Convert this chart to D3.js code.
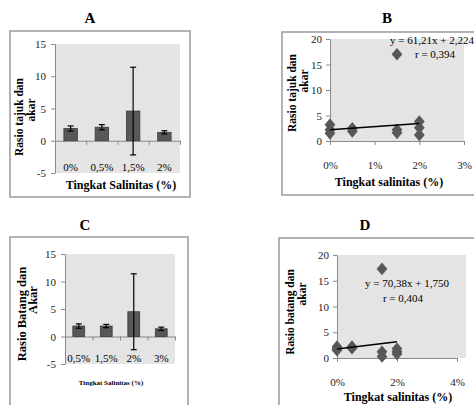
<!DOCTYPE html>
<html>
<head>
<meta charset="utf-8">
<script src="https://cdn.jsdelivr.net/npm/d3@7"></script>
<style>
  body { margin: 0; background: #fff; }
  svg text { font-family: "Liberation Serif", "Times New Roman", serif; }
  .axis path, .axis line { stroke: #8a8a8a; }
  .axis text { fill: #222; font-size: 11px; }
</style>
</head>
<body>
<svg id="chart"></svg>
<script>
// panel A - bars with error bars
const catsA = ["0%", "0,5%", "1,5%", "2%"];
const meansA = [1.9, 2.1, 4.6, 1.3];
const errA = [0.4, 0.4, 6.8, 0.25];

// panel C - bars with error bars
const catsC = ["0,5%", "1,5%", "2%", "3%"];
const meansC = [1.9, 1.9, 4.5, 1.4];
const errC = [0.4, 0.3, 6.9, 0.3];

const barTicks = [-5, 0, 5, 10, 15];

// panel B - scatter (salinity as fraction)
const salB = [0, 0, 0, 0.005, 0.005, 0.015, 0.015, 0.015, 0.02, 0.02, 0.02];
const ratioB = [3.2, 2.2, 1.5, 2.5, 1.9, 17.0, 2.2, 1.6, 3.8, 2.6, 1.2];
const fitB = [61.21, 2.224];
const xTicksB = [0, 0.01, 0.02, 0.03];

// panel D - scatter
const salD = [0, 0, 0, 0.005, 0.005, 0.015, 0.015, 0.015, 0.02, 0.02, 0.02];
const ratioD = [2.2, 1.8, 1.5, 2.2, 1.9, 17.3, 1.2, 0.3, 1.8, 1.2, 0.8];
const fitD = [70.38, 1.750];
const xTicksD = [0, 0.02, 0.04];

const scatterTicks = [0, 5, 10, 15, 20];

const svgWidth = 474, svgHeight = 405;
const plotBg = "#e4e4e4";
const markColor = "#585858";

const chart = d3.select("#chart")
    .attr("width", svgWidth)
    .attr("height", svgHeight);

function frame(box, title) {
    chart.append("rect")
        .attr("x", box.x).attr("y", box.y)
        .attr("width", box.w).attr("height", box.h)
        .attr("fill", "none")
        .attr("stroke", "#9a9a9a")
        .attr("stroke-width", 1.5);
    chart.append("text")
        .attr("x", title.x).attr("y", title.y)
        .attr("text-anchor", "middle")
        .attr("dominant-baseline", "central")
        .style("font-size", "15px")
        .style("font-weight", "bold")
        .text(title.text);
}

function yTitle(lines) {
    lines.forEach(function(l) {
        chart.append("text")
            .attr("transform", "translate(" + l.x + "," + l.y + ") rotate(-90)")
            .attr("text-anchor", "middle")
            .attr("dominant-baseline", "central")
            .style("font-size", l.size + "px")
            .style("font-weight", "bold")
            .text(l.text);
    });
}

function xTitle(t) {
    chart.append("text")
        .attr("x", t.x).attr("y", t.y)
        .attr("text-anchor", "middle")
        .attr("dominant-baseline", "central")
        .style("font-size", t.size + "px")
        .style("font-weight", "bold")
        .text(t.text);
}

function drawBars(cfg, cats, means, errs) {
    const y = d3.scaleLinear().domain([-5, 15]).range([cfg.bottom, cfg.top]);
    const x = d3.scaleBand().domain(cats).range([cfg.left, cfg.right])
        .paddingInner(0.57).paddingOuter(0.285);

    chart.append("rect")
        .attr("x", cfg.left).attr("y", cfg.top)
        .attr("width", cfg.right - cfg.left).attr("height", cfg.bottom - cfg.top)
        .attr("fill", plotBg);

    chart.append("g").attr("class", "axis")
        .attr("transform", "translate(" + cfg.left + ",0)")
        .call(d3.axisLeft(y).tickValues(barTicks).tickSize(4).tickSizeOuter(0).tickPadding(5)
            .tickFormat(d => String(d)));

    // x axis at zero, ticks on category boundaries
    const xb = d3.scaleLinear().domain([0, cats.length]).range([cfg.left, cfg.right]);
    chart.append("g").attr("class", "axis")
        .attr("transform", "translate(0," + y(0) + ")")
        .call(d3.axisBottom(xb).tickValues(d3.range(1, cats.length + 1)).tickSize(4).tickSizeOuter(0).tickFormat(""));

    chart.append("g").selectAll("rect")
        .data(means)
        .enter().append("rect")
        .attr("x", (d, i) => x(cats[i]))
        .attr("y", d => y(d))
        .attr("width", x.bandwidth())
        .attr("height", d => y(0) - y(d))
        .attr("fill", markColor)
        .attr("stroke", "#3a3a3a")
        .attr("stroke-width", 0.8);

    const eb = chart.append("g").attr("stroke", "#000").attr("stroke-width", 1.2);
    means.forEach(function(m, i) {
        const cx = x(cats[i]) + x.bandwidth() / 2;
        eb.append("line").attr("x1", cx).attr("x2", cx)
            .attr("y1", y(m + errs[i])).attr("y2", y(m - errs[i]));
        [m + errs[i], m - errs[i]].forEach(function(v) {
            eb.append("line").attr("x1", cx - 3).attr("x2", cx + 3)
                .attr("y1", y(v)).attr("y2", y(v));
        });
    });

    chart.append("g").selectAll("text")
        .data(cats)
        .enter().append("text")
        .attr("x", d => x(d) + x.bandwidth() / 2)
        .attr("y", cfg.bottom - 6)
        .attr("text-anchor", "middle")
        .attr("dominant-baseline", "central")
        .style("font-size", "11px")
        .text(d => d);
}

function drawScatter(cfg, xs, ys, fit, xTicks) {
    const y = d3.scaleLinear().domain([0, 20]).range([cfg.bottom, cfg.top]);
    const x = d3.scaleLinear().domain([0, d3.max(xTicks)]).range([cfg.left, cfg.right]);

    chart.append("rect")
        .attr("x", cfg.left).attr("y", cfg.top)
        .attr("width", cfg.bgRight - cfg.left).attr("height", cfg.bottom - cfg.top)
        .attr("fill", plotBg);

    chart.append("g").attr("class", "axis")
        .attr("transform", "translate(" + cfg.left + ",0)")
        .call(d3.axisLeft(y).tickValues(scatterTicks).tickSize(4).tickSizeOuter(0).tickPadding(4));

    chart.append("g").attr("class", "axis")
        .attr("transform", "translate(0," + cfg.bottom + ")")
        .call(d3.axisBottom(x).tickValues(xTicks).tickSize(4).tickSizeOuter(0)
            .tickPadding(cfg.labelPad).tickFormat(d3.format(".0%")));

    const diamond = d3.symbol(d3.symbolSquare, 80);
    chart.append("g").selectAll("path")
        .data(xs)
        .enter().append("path")
        .attr("d", diamond)
        .attr("transform", (d, i) => "translate(" + x(d) + "," + y(ys[i]) + ") scale(0.85,1) rotate(45)")
        .attr("fill", markColor);

    const xMax = d3.max(xs);
    chart.append("line")
        .attr("x1", x(0)).attr("y1", y(fit[1]))
        .attr("x2", x(xMax)).attr("y2", y(fit[0] * xMax + fit[1]))
        .attr("stroke", "#000").attr("stroke-width", 1.5);

    const fmt = v => String(v.toFixed(v > 10 ? 2 : 3)).replace(".", ",");
    chart.append("text")
        .attr("x", cfg.eq.x).attr("y", cfg.eq.y)
        .attr("text-anchor", cfg.eq.anchor)
        .attr("dominant-baseline", "central")
        .style("font-size", "11px")
        .text("y = " + fmt(fit[0]) + "x + " + fmt(fit[1]));
    chart.append("text")
        .attr("x", cfg.r.x).attr("y", cfg.r.y)
        .attr("text-anchor", cfg.r.anchor)
        .attr("dominant-baseline", "central")
        .style("font-size", "11px")
        .text(cfg.r.text);
}

// A
frame({x: 10, y: 31, w: 180, h: 166}, {x: 90, y: 18, text: "A"});
drawBars({left: 55, right: 180, top: 44, bottom: 173}, catsA, meansA, errA);
yTitle([{x: 19, y: 117, size: 11.5, text: "Rasio tajuk dan"}, {x: 31, y: 110, size: 11.5, text: "akar"}]);
xTitle({x: 121, y: 185, size: 12, text: "Tingkat Salinitas (%)"});

// B
frame({x: 282, y: 32, w: 200, h: 163}, {x: 387, y: 18, text: "B"});
drawScatter({left: 330, right: 464, bgRight: 464, top: 39, bottom: 141, labelPad: 16,
        eq: {x: 390, y: 40, anchor: "start"},
        r: {x: 415, y: 54, anchor: "start", text: "r = 0,394"}},
    salB, ratioB, fitB, xTicksB);
yTitle([{x: 292, y: 93, size: 11.5, text: "Rasio tajuk dan"}, {x: 304, y: 81, size: 11.5, text: "akar"}]);
xTitle({x: 389, y: 182, size: 12, text: "Tingkat salinitas (%)"});

// C
frame({x: 10, y: 237, w: 178, h: 200}, {x: 85, y: 225, text: "C"});
drawBars({left: 65, right: 175, top: 254, bottom: 364}, catsC, meansC, errC);
yTitle([{x: 22, y: 314, size: 12.5, text: "Rasio Batang dan"}, {x: 33, y: 300, size: 12.5, text: "Akar"}]);
xTitle({x: 111, y: 383, size: 7, text: "Tingkat Salinitas (%)"});

// D
frame({x: 279, y: 238, w: 200, h: 200}, {x: 365, y: 225, text: "D"});
drawScatter({left: 337, right: 457, bgRight: 466, top: 255, bottom: 358, labelPad: 16,
        eq: {x: 407, y: 283, anchor: "middle"},
        r: {x: 403, y: 298, anchor: "middle", text: "r = 0,404"}},
    salD, ratioD, fitD, xTicksD);
yTitle([{x: 290, y: 312, size: 11.5, text: "Rasio batang dan"}, {x: 302, y: 294, size: 11.5, text: "akar"}]);
xTitle({x: 398, y: 397, size: 12, text: "Tingkat salinitas (%)"});
</script>
</body>
</html>
